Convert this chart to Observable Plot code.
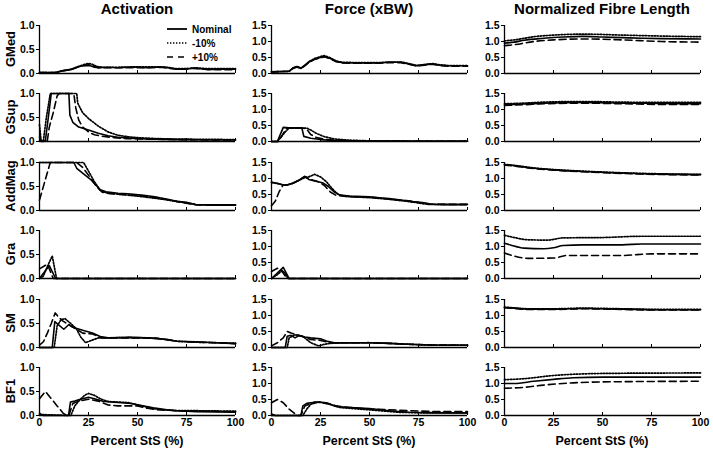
<!DOCTYPE html>
<html>
<head>
<meta charset="utf-8">
<script src="https://cdn.jsdelivr.net/npm/d3@7"></script>
<script src="https://cdn.jsdelivr.net/npm/@observablehq/plot@0.6"></script>
<style>
  body { margin: 0; background: #fff; }
  #wrap { position: relative; width: 713px; height: 453px; background: #fff; overflow: hidden;
          font-family: "Liberation Sans", Arial, sans-serif; font-weight: bold; color: #000; }
  .abs { position: absolute; white-space: nowrap; }
  .title { font-size: 15px; transform: translateX(-50%); }
  .xlab { font-size: 12.5px; transform: translateX(-50%); }
  .rowlab { font-size: 13px; transform: translate(-50%, -50%) rotate(-90deg); }
  .leg { font-size: 10px; display: flex; align-items: center; }
</style>
</head>
<body>
<div id="wrap"></div>
<script>
// ---------- categories & labels ----------
const muscles = ["GMed", "GSup", "AddMag", "Gra", "SM", "BF1"];
const measures = ["Activation", "Force (xBW)", "Normalized Fibre Length"];
const conditions = ["Nominal", "-10%", "+10%"];
const xTicks = [0, 25, 50, 75, 100];
const actTicks = [0, 0.5, 1.0];
const otherTicks = [0, 0.5, 1.0, 1.5];
const xTitle = "Percent StS (%)";

// ---------- data: [percent StS, value] ----------
// Activation
const gmedActNom = [[0,0.02],[8,0.02],[10,0.04],[12,0.06],[14,0.07],[16,0.08],[18,0.11],[20,0.14],[22,0.16],[24,0.17],[26,0.16],[28,0.13],[30,0.12],[35,0.13],[40,0.12],[45,0.13],[50,0.13],[55,0.12],[60,0.13],[64,0.13],[67,0.11],[70,0.09],[74,0.09],[78,0.11],[82,0.1],[86,0.08],[90,0.09],[95,0.09],[100,0.09]];
const gmedActLow = [[0,0.02],[9,0.02],[11,0.05],[14,0.07],[17,0.1],[20,0.15],[23,0.19],[25,0.21],[27,0.19],[29,0.15],[32,0.13],[40,0.13],[50,0.14],[60,0.14],[65,0.13],[70,0.1],[75,0.1],[80,0.12],[85,0.1],[90,0.1],[100,0.1]];
const gmedActHigh = [[0,0.02],[9,0.02],[11,0.05],[14,0.07],[17,0.1],[20,0.14],[23,0.17],[25,0.18],[27,0.16],[30,0.12],[35,0.12],[45,0.12],[55,0.12],[62,0.13],[68,0.1],[72,0.09],[78,0.11],[85,0.09],[90,0.08],[100,0.08]];

const gsupActNom = [[0,0.02],[2,0],[3,0.02],[4.5,0.5],[6,1],[15,1],[15.5,0.55],[17,0.4],[20,0.3],[25,0.24],[30,0.17],[35,0.12],[40,0.09],[50,0.06],[60,0.05],[70,0.04],[100,0.03]];
const gsupActLow = [[0,0.35],[0.8,0.02],[2,0.02],[3.5,0.5],[5.5,1],[19,1],[19.5,0.8],[22,0.6],[25,0.48],[30,0.32],[35,0.2],[40,0.13],[45,0.1],[50,0.08],[60,0.06],[70,0.05],[100,0.04]];
const gsupActHigh = [[0,0.1],[1,0],[4,0.02],[5,0.3],[7,0.6],[9,0.95],[10,1],[17.5,1],[18.5,0.7],[20,0.45],[22,0.3],[25,0.2],[28,0.14],[32,0.11],[38,0.08],[45,0.06],[55,0.05],[70,0.04],[100,0.03]];

const addActNom = [[0,1],[17.5,1],[19,0.88],[22,0.78],[26,0.65],[29,0.52],[31,0.43],[34,0.39],[40,0.36],[45,0.35],[52,0.32],[58,0.29],[62,0.26],[66,0.23],[70,0.19],[75,0.17],[80,0.12],[90,0.12],[100,0.12]];
const addActLow = [[0,1],[22.5,1],[25,0.82],[28,0.6],[31,0.42],[34,0.37],[40,0.34],[50,0.3],[60,0.25],[65,0.22],[70,0.19],[75,0.16],[80,0.12],[90,0.11],[100,0.11]];
const addActHigh = [[0,0.22],[5.5,1],[19,1],[22,0.9],[26,0.68],[29,0.5],[32,0.38],[36,0.35],[40,0.34],[50,0.31],[60,0.27],[66,0.22],[72,0.17],[80,0.12],[90,0.11],[100,0.11]];

const graActNom = [[0,0],[5,0.27],[8.2,0],[100,0]];
const graActLow = [[0,0],[2,0.05],[4,0.25],[6.5,0.47],[8.7,0],[100,0]];
const graActHigh = [[0,0.2],[4,0.3],[7,0],[100,0]];

const smActNom = [[0,0],[6.5,0],[7.8,0.54],[12.4,0.38],[15,0.48],[17,0.42],[22,0.36],[27,0.3],[31,0.23],[35,0.2],[46,0.21],[55,0.2],[60,0.19],[65,0.16],[70,0.13],[80,0.12],[90,0.1],[100,0.08]];
const smActLow = [[0,0],[7.5,0],[9,0.45],[11,0.58],[13,0.6],[16,0.5],[19,0.38],[21,0.22],[23.5,0.1],[26,0.14],[30,0.2],[35,0.2],[46,0.21],[55,0.2],[65,0.17],[70,0.13],[80,0.11],[90,0.1],[100,0.09]];
const smActHigh = [[0,0.05],[2,0.12],[4,0.3],[6,0.5],[8,0.72],[10,0.62],[12,0.55],[15,0.47],[19,0.38],[22,0.3],[27,0.28],[32,0.2],[40,0.2],[50,0.2],[60,0.19],[70,0.13],[80,0.11],[90,0.1],[100,0.08]];

const bf1ActNom = [[0,0.05],[1,0.02],[2,0],[14.8,0],[15.8,0.28],[18,0.3],[20,0.33],[25,0.38],[28,0.35],[32,0.3],[40,0.27],[47,0.25],[52,0.21],[58,0.16],[65,0.12],[70,0.1],[80,0.08],[100,0.07]];
const bf1ActLow = [[0,0.02],[16,0],[17,0.1],[18,0.2],[20,0.3],[23,0.42],[25,0.46],[28,0.42],[31,0.35],[35,0.29],[45,0.27],[52,0.2],[60,0.13],[70,0.1],[80,0.1],[100,0.09]];
const bf1ActHigh = [[0,0.35],[3,0.5],[6,0.35],[9,0.2],[12,0.05],[14,0],[15,0],[17,0.25],[20,0.3],[25,0.34],[30,0.3],[35,0.22],[40,0.2],[50,0.2],[55,0.15],[60,0.12],[70,0.1],[100,0.08]];

// Force (xBW)
const gmedFrcNom = [[0,0.05],[9,0.07],[11,0.18],[13,0.22],[15,0.17],[17,0.25],[19,0.35],[22,0.45],[25,0.5],[27,0.53],[30,0.47],[33,0.38],[36,0.34],[45,0.33],[55,0.33],[60,0.35],[66,0.35],[70,0.3],[74,0.24],[78,0.27],[82,0.3],[86,0.26],[90,0.24],[95,0.24],[100,0.24]];
const gmedFrcLow = [[0,0.05],[9,0.07],[11,0.16],[13,0.2],[15,0.16],[17,0.26],[19,0.37],[22,0.47],[25,0.53],[27,0.56],[30,0.49],[33,0.39],[36,0.35],[45,0.34],[55,0.34],[60,0.36],[66,0.36],[70,0.31],[74,0.25],[78,0.28],[82,0.31],[86,0.27],[90,0.25],[95,0.25],[100,0.25]];
const gmedFrcHigh = [[0,0.05],[9,0.07],[11,0.17],[13,0.21],[15,0.16],[17,0.24],[19,0.34],[22,0.44],[25,0.49],[27,0.52],[30,0.46],[33,0.37],[36,0.33],[45,0.32],[55,0.32],[60,0.34],[66,0.34],[70,0.29],[74,0.23],[78,0.26],[82,0.29],[86,0.25],[90,0.23],[95,0.23],[100,0.23]];

const gsupFrcNom = [[0,0],[3,0],[6,0.44],[10,0.42],[13,0.43],[15.5,0.42],[16.5,0.16],[20,0.1],[25,0.06],[30,0.04],[40,0.02],[50,0.01],[100,0.01]];
const gsupFrcLow = [[0,0],[3,0],[5,0.15],[7,0.3],[9,0.42],[14,0.42],[18,0.42],[20,0.36],[23,0.25],[27,0.15],[32,0.08],[40,0.04],[50,0.02],[100,0.01]];
const gsupFrcHigh = [[0,0],[3.5,0],[5.5,0.2],[7.5,0.4],[10,0.43],[16,0.42],[18,0.38],[20,0.22],[23,0.12],[28,0.06],[35,0.03],[50,0.01],[100,0.01]];

const addFrcNom = [[0,0.88],[3,0.85],[6,0.8],[8,0.8],[11,0.86],[14,0.95],[17,1.07],[19,0.97],[22,0.92],[26,0.87],[29,0.75],[32,0.58],[35,0.48],[40,0.45],[50,0.43],[55,0.4],[60,0.37],[66,0.33],[72,0.28],[78,0.24],[81,0.2],[90,0.19],[100,0.19]];
const addFrcLow = [[0,0.88],[3,0.84],[6,0.8],[8,0.8],[11,0.85],[14,0.94],[17,1.03],[19,1.05],[22,1.13],[25,1.05],[28,0.9],[31,0.68],[34,0.5],[38,0.44],[50,0.4],[60,0.35],[70,0.28],[80,0.19],[90,0.18],[100,0.18]];
const addFrcHigh = [[0,0.15],[2,0.3],[4,0.6],[6,0.8],[8,0.8],[11,0.85],[14,0.95],[17,1.05],[19,1.0],[21,0.95],[24,0.9],[27,0.78],[30,0.58],[33,0.47],[40,0.43],[50,0.42],[60,0.36],[70,0.3],[80,0.2],[90,0.19],[100,0.19]];

const graFrcNom = [[0,0],[6,0.35],[9,0],[100,0]];
const graFrcLow = [[0,0],[3,0.12],[5.5,0.25],[7,0.15],[8.5,0],[100,0]];
const graFrcHigh = [[0,0.22],[3,0.32],[5,0.25],[8,0],[100,0]];

const smFrcNom = [[0,0],[7,0],[8,0.35],[10,0.38],[12,0.3],[14,0.37],[17,0.33],[20,0.3],[25,0.27],[28,0.2],[32,0.15],[50,0.15],[60,0.13],[70,0.1],[80,0.08],[100,0.07]];
const smFrcLow = [[0,0],[8,0],[9,0.3],[12,0.4],[16,0.35],[20,0.15],[24,0.05],[27,0.1],[30,0.13],[35,0.14],[50,0.15],[60,0.13],[70,0.1],[80,0.08],[100,0.07]];
const smFrcHigh = [[0,0.05],[3,0.15],[6,0.3],[8,0.5],[10,0.45],[14,0.38],[18,0.3],[20,0.25],[25,0.22],[30,0.15],[50,0.15],[60,0.13],[70,0.1],[80,0.08],[100,0.07]];

const bf1FrcNom = [[0,0.05],[2,0],[15,0],[16,0.3],[18,0.38],[20,0.4],[25,0.42],[28,0.38],[33,0.28],[40,0.25],[50,0.22],[60,0.15],[70,0.1],[80,0.09],[100,0.08]];
const bf1FrcLow = [[0,0],[16,0],[18,0.2],[20,0.35],[24,0.42],[30,0.35],[35,0.25],[45,0.2],[55,0.15],[65,0.1],[80,0.08],[100,0.08]];
const bf1FrcHigh = [[0,0.4],[3,0.5],[6,0.4],[9,0.2],[12,0.05],[13,0],[15,0],[17,0.3],[22,0.42],[28,0.4],[33,0.3],[40,0.25],[50,0.2],[60,0.18],[70,0.15],[85,0.12],[100,0.12]];

// Normalized fibre length
const gmedLenNom = [[0,0.95],[5,0.98],[10,1.04],[20,1.1],[30,1.14],[40,1.16],[50,1.14],[60,1.12],[70,1.1],[80,1.09],[100,1.08]];
const gmedLenLow = [[0,1.02],[5,1.05],[15,1.15],[25,1.2],[40,1.23],[60,1.2],[80,1.17],[100,1.15]];
const gmedLenHigh = [[0,0.87],[5,0.9],[15,1.0],[25,1.05],[40,1.08],[60,1.05],[80,1.0],[100,0.98]];

const gsupLenNom = [[0,1.15],[10,1.17],[20,1.2],[40,1.22],[60,1.2],[80,1.19],[100,1.18]];
const gsupLenLow = [[0,1.18],[10,1.2],[20,1.23],[40,1.25],[60,1.23],[80,1.22],[100,1.22]];
const gsupLenHigh = [[0,1.13],[10,1.15],[20,1.18],[40,1.2],[60,1.18],[80,1.16],[100,1.16]];

const addLenNom = [[0,1.43],[5,1.4],[15,1.32],[25,1.27],[40,1.22],[55,1.18],[70,1.15],[85,1.13],[100,1.12]];
const addLenLow = [[0,1.44],[5,1.41],[15,1.33],[25,1.28],[40,1.23],[55,1.19],[70,1.16],[85,1.14],[100,1.13]];
const addLenHigh = [[0,1.42],[5,1.39],[15,1.31],[25,1.26],[40,1.21],[55,1.17],[70,1.14],[85,1.12],[100,1.11]];

const graLenNom = [[0,1.1],[3,1.05],[10,0.95],[20,0.93],[25,0.96],[30,1.03],[40,1.05],[60,1.05],[70,1.08],[100,1.08]];
const graLenLow = [[0,1.35],[5,1.28],[12,1.21],[22,1.2],[30,1.27],[50,1.28],[70,1.32],[100,1.32]];
const graLenHigh = [[0,0.8],[5,0.7],[12,0.63],[25,0.64],[32,0.72],[60,0.72],[75,0.77],[100,0.77]];

const smLenNom = [[0,1.25],[5,1.23],[12,1.2],[25,1.2],[40,1.22],[60,1.2],[80,1.18],[100,1.18]];
const smLenLow = [[0,1.26],[5,1.24],[12,1.21],[25,1.21],[40,1.23],[60,1.21],[80,1.19],[100,1.19]];
const smLenHigh = [[0,1.24],[5,1.22],[12,1.19],[25,1.19],[40,1.21],[60,1.19],[80,1.17],[100,1.17]];

const bf1LenNom = [[0,1.0],[5,1.0],[15,1.07],[25,1.13],[35,1.18],[50,1.2],[100,1.2]];
const bf1LenLow = [[0,1.12],[10,1.15],[25,1.25],[40,1.3],[60,1.32],[100,1.33]];
const bf1LenHigh = [[0,0.85],[10,0.88],[20,0.95],[35,1.02],[50,1.05],[100,1.07]];

// ---------- grid of panels ----------
const grid = [
  [[gmedActNom, gmedActLow, gmedActHigh], [gmedFrcNom, gmedFrcLow, gmedFrcHigh], [gmedLenNom, gmedLenLow, gmedLenHigh]],
  [[gsupActNom, gsupActLow, gsupActHigh], [gsupFrcNom, gsupFrcLow, gsupFrcHigh], [gsupLenNom, gsupLenLow, gsupLenHigh]],
  [[addActNom, addActLow, addActHigh], [addFrcNom, addFrcLow, addFrcHigh], [addLenNom, addLenLow, addLenHigh]],
  [[graActNom, graActLow, graActHigh], [graFrcNom, graFrcLow, graFrcHigh], [graLenNom, graLenLow, graLenHigh]],
  [[smActNom, smActLow, smActHigh], [smFrcNom, smFrcLow, smFrcHigh], [smLenNom, smLenLow, smLenHigh]],
  [[bf1ActNom, bf1ActLow, bf1ActHigh], [bf1FrcNom, bf1FrcLow, bf1FrcHigh], [bf1LenNom, bf1LenLow, bf1LenHigh]]
];

// ---------- layout ----------
const colLeft = [39, 271, 504];
const plotW = 196;
const rowTop = [25, 93, 162, 230, 299, 367];
const plotH = 48;
const dashes = [null, "1.4,1.6", "7,4"];
const wrap = document.getElementById("wrap");

function addDiv(cls, text, left, top) {
  const d = document.createElement("div");
  d.className = "abs " + cls;
  d.textContent = text;
  d.style.left = left + "px";
  d.style.top = top + "px";
  wrap.appendChild(d);
  return d;
}

grid.forEach((row, r) => {
  row.forEach((series, c) => {
    const bottom = r === muscles.length - 1;
    const mL = 40, mR = 10, mT = 8, mB = bottom ? 24 : 6;
    const ymax = c === 0 ? 1 : 1.5;
    const curve = c === 2 ? "monotone-x" : "linear";
    const lines = series.map((arr, i) =>
      Plot.line(arr, {x: d => d[0], y: d => d[1], curve, stroke: "#000",
        strokeWidth: i === 1 ? 1.7 : 1.6, strokeDasharray: dashes[i]}));
    const chart = Plot.plot({
      width: plotW + mL + mR,
      height: plotH + mT + mB,
      marginLeft: mL, marginRight: mR, marginTop: mT, marginBottom: mB,
      style: {fontFamily: '"Liberation Sans", Arial, sans-serif', fontSize: "10.5px",
              fontWeight: "bold", color: "#000", background: "transparent", overflow: "visible"},
      x: {domain: [0, 100]},
      y: {domain: [0, ymax]},
      marks: [
        Plot.axisY({ticks: c === 0 ? actTicks : otherTicks, tickSize: 3, tickPadding: 2,
                    tickFormat: d3.format(".1f"), label: null}),
        Plot.axisX({ticks: xTicks, tickSize: -3, tickPadding: 6, label: null,
                    tickFormat: bottom ? d3.format("d") : () => ""}),
        Plot.ruleX([0], {stroke: "#000", strokeWidth: 1.3}),
        Plot.ruleY([0], {stroke: "#000", strokeWidth: 1.3}),
        ...lines
      ]
    });
    chart.style.position = "absolute";
    chart.style.left = (colLeft[c] - mL) + "px";
    chart.style.top = (rowTop[r] - mT) + "px";
    wrap.appendChild(chart);
  });
});

// column titles
measures.forEach((m, c) => addDiv("title", m, colLeft[c] + plotW / 2, 0));
// x axis titles
measures.forEach((m, c) => addDiv("xlab", xTitle, colLeft[c] + plotW / 2, 434));
// row labels
muscles.forEach((m, r) => addDiv("rowlab", m, 10, rowTop[r] + plotH / 2));

// legend
conditions.forEach((name, i) => {
  const d = document.createElement("div");
  d.className = "abs leg";
  d.style.left = "166px";
  d.style.top = (23 + i * 14) + "px";
  const ns = "http://www.w3.org/2000/svg";
  const s = document.createElementNS(ns, "svg");
  s.setAttribute("width", "24"); s.setAttribute("height", "12");
  const l = document.createElementNS(ns, "line");
  l.setAttribute("x1", "1"); l.setAttribute("x2", "21");
  l.setAttribute("y1", "6"); l.setAttribute("y2", "6");
  l.setAttribute("stroke", "#000"); l.setAttribute("stroke-width", i === 0 ? "1.8" : "1.6");
  if (dashes[i]) l.setAttribute("stroke-dasharray", i === 2 ? "6,5" : dashes[i]);
  s.appendChild(l);
  d.appendChild(s);
  const t = document.createElement("span");
  t.textContent = name;
  t.style.marginLeft = "2px";
  d.appendChild(t);
  wrap.appendChild(d);
});
</script>
</body>
</html>
